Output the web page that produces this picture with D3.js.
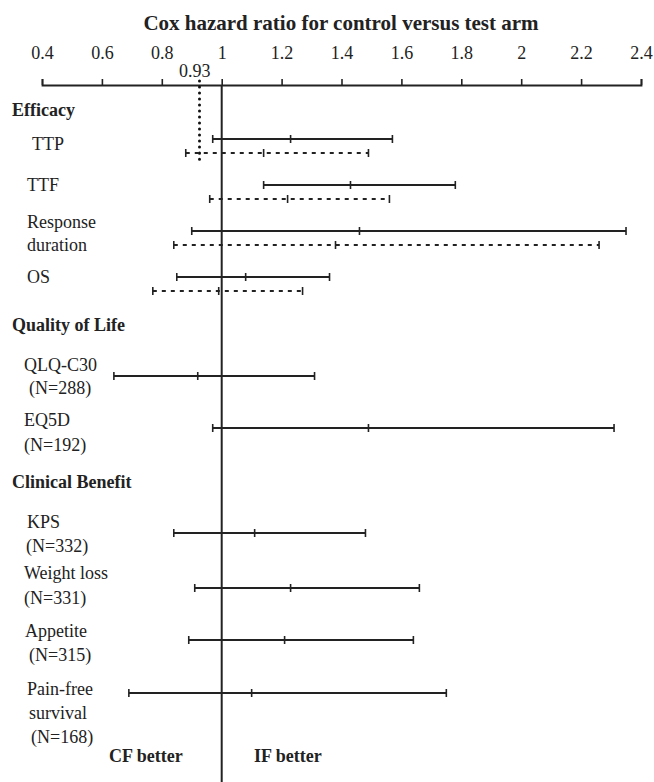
<!DOCTYPE html>
<html>
<head>
<meta charset="utf-8">
<script src="https://cdn.jsdelivr.net/npm/d3@7"></script>
<style>
  html, body { margin: 0; padding: 0; background: #fff; }
</style>
</head>
<body>
<svg id="chart" width="654" height="782" font-family="'Liberation Serif', 'DejaVu Serif', serif"></svg>
<script>
// ---- data ----
const title = "Cox hazard ratio for control versus test arm";
const tickValues = [0.4, 0.6, 0.8, 1, 1.2, 1.4, 1.6, 1.8, 2, 2.2, 2.4];
const tickLabels = ["0.4", "0.6", "0.8", "1", "1.2", "1.4", "1.6", "1.8", "2", "2.2", "2.4"];
const pooledValue = 0.93;
const groups = ["Efficacy", "Quality of Life", "Clinical Benefit"];
const outcomes = ["TTP", "TTF", "Response duration", "OS",
  "QLQ-C30", "EQ5D",
  "KPS", "Weight loss", "Appetite", "Pain-free survival"];
const outcomeLabelLines = [["TTP"], ["TTF"], ["Response", "duration"], ["OS"],
  ["QLQ-C30", "(N=288)"], ["EQ5D", "(N=192)"],
  ["KPS", "(N=332)"], ["Weight loss", "(N=331)"], ["Appetite", "(N=315)"], ["Pain-free", "survival", "(N=168)"]];
// solid intervals (all outcomes)
const solidLow  = [0.97, 1.14, 0.90, 0.85, 0.64, 0.97, 0.84, 0.91, 0.89, 0.69];
const solidMid  = [1.23, 1.43, 1.46, 1.08, 0.92, 1.49, 1.11, 1.23, 1.21, 1.10];
const solidHigh = [1.57, 1.78, 2.35, 1.36, 1.31, 2.31, 1.48, 1.66, 1.64, 1.75];
// dashed intervals (efficacy outcomes only)
const dashedLow  = [0.88, 0.96, 0.84, 0.77];
const dashedMid  = [1.14, 1.22, 1.38, 0.99];
const dashedHigh = [1.49, 1.56, 2.26, 1.27];
const sideLabels = ["CF better", "IF better"];

// ---- layout ----
const FONT = "'Liberation Serif', 'DejaVu Serif', serif";
const svg = d3.select("#chart");
const ink = "#222";
const axisY = 85;
const x = d3.scaleLinear().domain([0.4, 2.4]).range([42, 641]);

const rowY = d3.scaleOrdinal().domain(outcomes)
  .range([139, 185, 231, 277, 376, 428, 533, 588, 640, 693]);
const groupY = [110, 325, 482];
const dashOffset = 14;

function addText(xp, yp, str, opts = {}) {
  return svg.append("text").attr("x", xp).attr("y", yp)
    .attr("font-family", FONT).attr("font-size", opts.size || 18)
    .attr("font-weight", opts.bold ? "bold" : "normal")
    .attr("text-anchor", opts.anchor || "start")
    .attr("dy", opts.dy || null)
    .attr("fill", ink).text(str);
}

// title
addText(341, 30, title, { size: 21, bold: true, anchor: "middle" });

// axis
const axis = d3.axisTop(x).tickValues(tickValues)
  .tickFormat((d, i) => tickLabels[i]).tickSize(6).tickSizeOuter(6).tickPadding(20);
const gAxis = svg.append("g").attr("transform", `translate(0,${axisY})`).call(axis)
  .attr("font-family", FONT).attr("font-size", 18);
gAxis.select(".domain").attr("stroke", ink).attr("stroke-width", 1.8);
gAxis.selectAll(".tick line").attr("stroke", ink).attr("stroke-width", 1.6);
gAxis.selectAll(".tick text").attr("fill", ink);

// reference line at 1
svg.append("line").attr("x1", x(1)).attr("x2", x(1)).attr("y1", axisY).attr("y2", 782)
  .attr("stroke", ink).attr("stroke-width", 2);

// pooled dotted line
const px = Math.round(x(pooledValue)) - 1.5;
svg.append("line").attr("x1", px).attr("x2", px)
  .attr("y1", 81).attr("y2", 160)
  .attr("stroke", "#111").attr("stroke-width", 3).attr("stroke-linecap", "round")
  .attr("stroke-dasharray", "0.01,6");
addText(x(pooledValue) - 6, 77, String(pooledValue), { anchor: "middle" });

// group headers
groups.forEach((g, i) => addText(12, groupY[i], g, { bold: true, dy: "0.33em" }));

// outcome labels
const labelLayout = {
  "TTP": { x: [32], y: [144] },
  "TTF": { x: [27], y: [185] },
  "Response duration": { x: [27, 27], y: [222, 245] },
  "OS": { x: [27], y: [277] },
  "QLQ-C30": { x: [24, 29], y: [365, 388] },
  "EQ5D": { x: [24, 24], y: [420, 445] },
  "KPS": { x: [27, 26], y: [522, 546] },
  "Weight loss": { x: [24, 24], y: [573, 598] },
  "Appetite": { x: [25, 29], y: [631, 655] },
  "Pain-free survival": { x: [27, 29, 31], y: [689, 713, 737] }
};
outcomes.forEach((o, i) => {
  const lay = labelLayout[o];
  outcomeLabelLines[i].forEach((line, j) => addText(lay.x[j], lay.y[j], line, { dy: "0.33em" }));
});

// interval drawing
function drawInterval(lo, mid, hi, y, dashed) {
  const g = svg.append("g");
  g.append("line").attr("x1", x(lo)).attr("x2", x(hi)).attr("y1", y).attr("y2", y)
    .attr("stroke", ink).attr("stroke-width", 1.8)
    .attr("stroke-dasharray", dashed ? "4,5" : null);
  [lo, mid, hi].forEach(v => {
    g.append("line").attr("x1", x(v)).attr("x2", x(v)).attr("y1", y - 4).attr("y2", y + 4)
      .attr("stroke", ink).attr("stroke-width", 1.6);
  });
}
outcomes.forEach((o, i) => drawInterval(solidLow[i], solidMid[i], solidHigh[i], rowY(o), false));
dashedLow.forEach((lo, i) => drawInterval(lo, dashedMid[i], dashedHigh[i], rowY(outcomes[i]) + dashOffset, true));

// side labels
addText(109, 756, sideLabels[0], { bold: true, dy: "0.33em" });
addText(254, 756, sideLabels[1], { bold: true, dy: "0.33em" });
</script>
</body>
</html>
